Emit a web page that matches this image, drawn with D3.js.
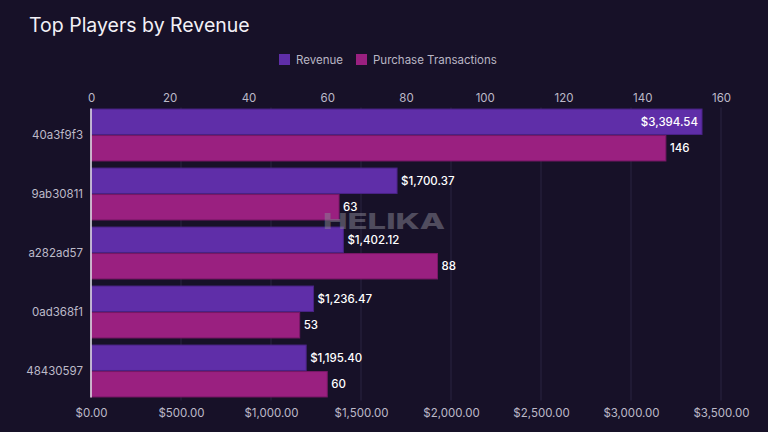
<!DOCTYPE html>
<html><head><meta charset="utf-8">
<script src="https://cdn.jsdelivr.net/npm/d3@7"></script>
<style>
html,body{margin:0;padding:0;background:#171128;}
svg{display:block;font-family:Inter,"Noto Sans",sans-serif;}
</style></head>
<body><svg id="c" width="768" height="432"></svg>
<script>
const players = ["40a3f9f3","9ab30811","a282ad57","0ad368f1","48430597"];
const revenue = [3394.54,1700.37,1402.12,1236.47,1195.40];
const purchases = [146,63,88,53,60];
const seriesNames = ["Revenue","Purchase Transactions"];
const revenueTicks = [0,500,1000,1500,2000,2500,3000,3500];
const purchaseTicks = [0,20,40,60,80,100,120,140,160];

(function(){
const colRev = "#5f2ea8", colPur = "#9a2080";
const svg = d3.select("#c");
const W=768,H=432;
svg.append("rect").attr("width",W).attr("height",H).attr("fill","#171128");

const pL=91,pR=721,pT=105.5,pB=400.5;
const xRev = d3.scaleLinear().domain([0,3500]).range([pL,pR]);
const xPur = d3.scaleLinear().domain([0,160]).range([pL,pR]);
const y = d3.scaleBand().domain(players).range([pT,pB]).paddingInner(0.12).paddingOuter(0.06);
const sub = d3.scaleBand().domain(["rev","pur"]).range([0,y.bandwidth()]).paddingInner(0.04);

svg.append("text").attr("x",29).attr("y",32).attr("fill","#f2f0f6")
  .attr("font-size",19.5).attr("font-weight",400).text("Top Players by Revenue");

const lg = svg.append("g");
const legendItems=[{n:seriesNames[0],c:colRev,x:279},{n:seriesNames[1],c:colPur,x:356}];
legendItems.forEach(d=>{
  lg.append("rect").attr("x",d.x).attr("y",54).attr("width",11).attr("height",11).attr("fill",d.c);
  lg.append("text").attr("x",d.x+17).attr("y",63.5).attr("fill","#b9b6c4").attr("font-size",11.5).text(d.n);
});

svg.append("g").selectAll("line").data(revenueTicks.slice(1)).join("line")
  .attr("x1",d=>xRev(d)).attr("x2",d=>xRev(d)).attr("y1",pT+2).attr("y2",pB)
  .attr("stroke","#2b2440").attr("stroke-width",1);

const bAx = svg.append("g").attr("transform",`translate(0,${pB})`)
  .call(d3.axisBottom(xRev).tickValues(revenueTicks).tickFormat(d=>"$"+d3.format(",.2f")(d)).tickSize(0).tickPadding(8));
bAx.select(".domain").remove();
bAx.selectAll("text").attr("fill","#bdbac8").attr("font-size",11.5).attr("font-family","Inter,sans-serif");

const tAx = svg.append("g").attr("transform",`translate(0,${pT})`)
  .call(d3.axisTop(xPur).tickValues(purchaseTicks).tickSize(0).tickPadding(4));
tAx.select(".domain").remove();
tAx.selectAll("text").attr("fill","#bdbac8").attr("font-size",11.5).attr("font-family","Inter,sans-serif");

const yAx = svg.append("g").attr("transform",`translate(${pL},0)`)
  .call(d3.axisLeft(y).tickSize(0).tickPadding(8));
yAx.select(".domain").remove();
yAx.selectAll("text").attr("fill","#bdbac8").attr("font-size",11.5).attr("font-family","Inter,sans-serif");

const g = svg.append("g");
players.forEach((p,i)=>{
  const y0 = y(p);
  g.append("rect").attr("x",xRev(0)).attr("y",y0+sub("rev")).attr("width",xRev(revenue[i])-xRev(0))
    .attr("height",sub.bandwidth()).attr("fill",colRev).attr("stroke","#4a2385").attr("stroke-width",1);
  g.append("rect").attr("x",xPur(0)).attr("y",y0+sub("pur")).attr("width",xPur(purchases[i])-xPur(0))
    .attr("height",sub.bandwidth()).attr("fill",colPur).attr("stroke","#781866").attr("stroke-width",1);
});

svg.append("line").attr("x1",pL).attr("x2",pL).attr("y1",pT+3).attr("y2",pB-3)
  .attr("stroke","#e8e6ee").attr("stroke-width",1.5);

// watermark
svg.append("text").attr("x",323).attr("y",229)
  .attr("fill","#8a8794").attr("opacity",0.5).attr("font-size",22).attr("font-weight",800)
  .attr("textLength",122).attr("lengthAdjust","spacingAndGlyphs").text("HELIKA");

const lab = svg.append("g");
players.forEach((p,i)=>{
  const y0 = y(p);
  const rl = "$"+d3.format(",.2f")(revenue[i]);
  const inside = xRev(revenue[i]) > pR-60;
  lab.append("text").attr("x",inside? xRev(revenue[i])-4 : xRev(revenue[i])+4)
    .attr("text-anchor",inside?"end":"start")
    .attr("y",y0+sub("rev")+sub.bandwidth()/2).attr("dy","0.35em")
    .attr("fill","#ffffff").attr("font-size",11.5).attr("font-weight",500).text(rl);
  lab.append("text").attr("x",xPur(purchases[i])+4)
    .attr("y",y0+sub("pur")+sub.bandwidth()/2).attr("dy","0.35em")
    .attr("fill","#ffffff").attr("font-size",11.5).attr("font-weight",500).text(purchases[i]);
});
})();
</script></body></html>
